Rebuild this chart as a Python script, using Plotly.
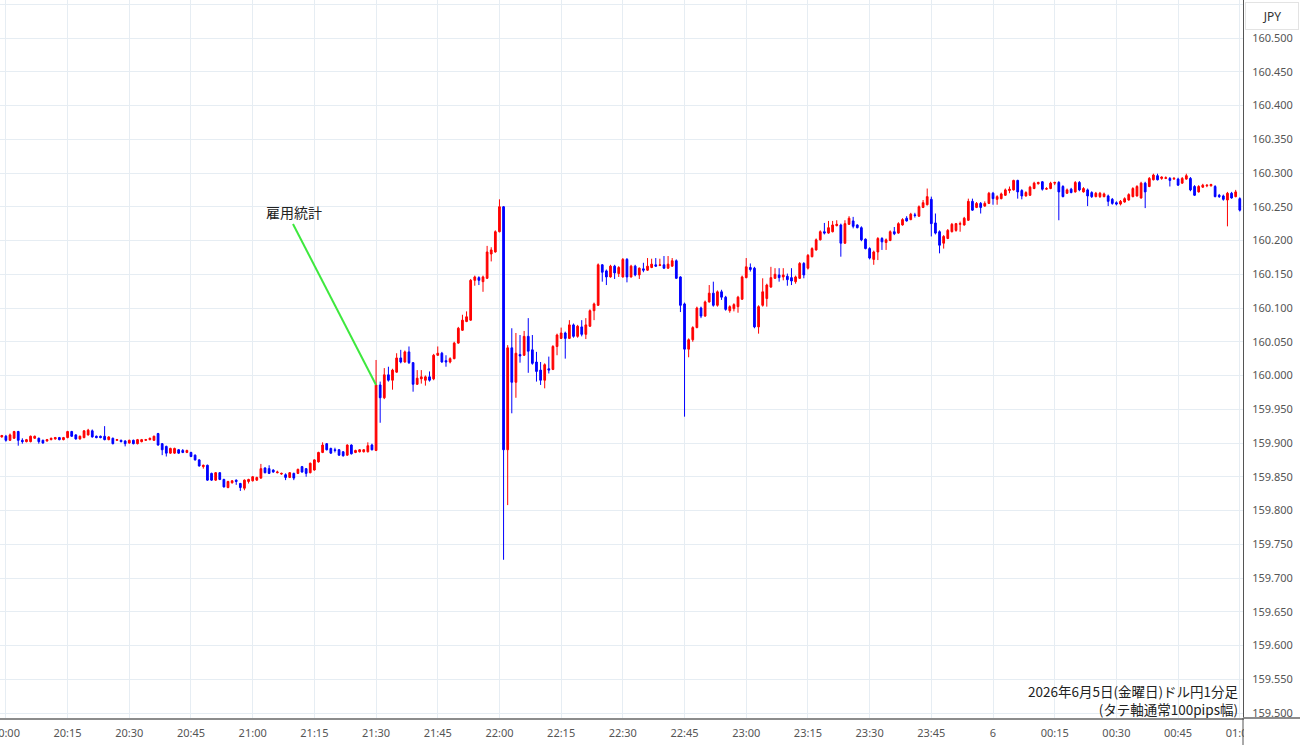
import pandas as pd
import plotly.graph_objects as go

# 1-minute USD/JPY candles, 19:59 .. 01:00
start_time = "2026-06-05 19:59"
n_bars = 302

open_ = [
    159.909, 159.910, 159.904, 159.907, 159.917, 159.904, 159.902, 159.902, 159.907, 159.907,
    159.904, 159.903, 159.905, 159.906, 159.908, 159.905, 159.908, 159.917, 159.912, 159.906,
    159.908, 159.912, 159.918, 159.910, 159.910, 159.910, 159.905, 159.907, 159.904, 159.904,
    159.903, 159.900, 159.904, 159.899, 159.902, 159.904, 159.905, 159.904, 159.914, 159.899,
    159.895, 159.885, 159.885, 159.890, 159.889, 159.886, 159.886, 159.882, 159.875, 159.865,
    159.867, 159.855, 159.845, 159.856, 159.846, 159.834, 159.841, 159.845, 159.840, 159.833,
    159.843, 159.844, 159.845, 159.848, 159.863, 159.862, 159.860, 159.856, 159.854, 159.853,
    159.849, 159.855, 159.855, 159.865, 159.862, 159.856, 159.860, 159.872, 159.886, 159.899,
    159.892, 159.890, 159.890, 159.887, 159.882, 159.897, 159.886, 159.887, 159.887, 159.887,
    159.897, 159.889, 159.986, 159.967, 160.001, 159.993, 160.005, 160.026, 160.020, 160.035,
    160.019, 159.987, 159.995, 159.993, 159.998, 159.995, 160.030, 160.033, 160.022, 160.020,
    160.025, 160.048, 160.067, 160.080, 160.082, 160.141, 160.145, 160.139, 160.144, 160.180,
    160.183, 160.213, 160.250, 159.890, 160.041, 159.990, 160.031, 160.030, 160.058, 160.038,
    160.020, 160.008, 159.993, 160.010, 160.009, 160.043, 160.055, 160.063, 160.055, 160.075,
    160.058, 160.072, 160.061, 160.073, 160.096, 160.104, 160.164, 160.155, 160.146, 160.162,
    160.151, 160.146, 160.172, 160.146, 160.162, 160.149, 160.158, 160.156, 160.160, 160.164,
    160.163, 160.164, 160.159, 160.162, 160.170, 160.146, 160.106, 160.039, 160.053, 160.071,
    160.100, 160.088, 160.109, 160.122, 160.104, 160.124, 160.116, 160.096, 160.099, 160.102,
    160.113, 160.145, 160.160, 160.159, 160.072, 160.104, 160.114, 160.131, 160.144, 160.149,
    160.146, 160.147, 160.145, 160.139, 160.144, 160.166, 160.159, 160.176, 160.186, 160.201,
    160.213, 160.211, 160.213, 160.222, 160.223, 160.196, 160.224, 160.229, 160.223, 160.219,
    160.202, 160.188, 160.172, 160.183, 160.203, 160.197, 160.200, 160.213, 160.211, 160.223,
    160.233, 160.231, 160.238, 160.236, 160.249, 160.253, 160.261, 160.226, 160.213, 160.196,
    160.203, 160.213, 160.215, 160.224, 160.223, 160.230, 160.258, 160.249, 160.255, 160.251,
    160.255, 160.270, 160.261, 160.262, 160.267, 160.274, 160.275, 160.289, 160.274, 160.266,
    160.267, 160.277, 160.284, 160.287, 160.276, 160.277, 160.285, 160.286, 160.280, 160.270,
    160.276, 160.272, 160.286, 160.272, 160.275, 160.271, 160.265, 160.265, 160.265, 160.266,
    160.261, 160.256, 160.254, 160.257, 160.260, 160.265, 160.266, 160.263, 160.285, 160.280,
    160.290, 160.296, 160.292, 160.292, 160.292, 160.291, 160.291, 160.285, 160.291, 160.292,
    160.280, 160.272, 160.279, 160.281, 160.281, 160.280, 160.267, 160.266, 160.260, 160.270,
    160.265, 160.262,
]

high = [
    159.912, 159.912, 159.914, 159.918, 159.918, 159.907, 159.906, 159.911, 159.911, 159.908,
    159.905, 159.906, 159.908, 159.909, 159.909, 159.909, 159.918, 159.918, 159.913, 159.911,
    159.919, 159.921, 159.920, 159.911, 159.911, 159.925, 159.910, 159.908, 159.906, 159.905,
    159.904, 159.905, 159.905, 159.906, 159.906, 159.906, 159.908, 159.911, 159.915, 159.900,
    159.896, 159.893, 159.893, 159.891, 159.891, 159.890, 159.887, 159.883, 159.876, 159.868,
    159.868, 159.856, 159.857, 159.857, 159.847, 159.844, 159.845, 159.846, 159.841, 159.846,
    159.847, 159.851, 159.850, 159.869, 159.864, 159.867, 159.861, 159.859, 159.856, 159.855,
    159.857, 159.856, 159.862, 159.866, 159.863, 159.871, 159.876, 159.887, 159.901, 159.900,
    159.893, 159.893, 159.891, 159.888, 159.898, 159.898, 159.890, 159.891, 159.891, 159.901,
    159.899, 160.023, 159.991, 160.011, 160.013, 160.010, 160.033, 160.038, 160.037, 160.043,
    160.020, 160.008, 160.008, 160.000, 160.006, 160.032, 160.043, 160.035, 160.030, 160.027,
    160.050, 160.072, 160.090, 160.095, 160.143, 160.148, 160.147, 160.148, 160.192, 160.190,
    160.215, 160.261, 160.251, 160.045, 160.070, 160.063, 160.060, 160.066, 160.085, 160.060,
    160.035, 160.020, 160.018, 160.028, 160.045, 160.062, 160.071, 160.065, 160.082, 160.077,
    160.075, 160.082, 160.085, 160.098, 160.108, 160.166, 160.165, 160.157, 160.164, 160.164,
    160.162, 160.174, 160.174, 160.164, 160.164, 160.160, 160.167, 160.174, 160.173, 160.174,
    160.173, 160.177, 160.177, 160.174, 160.172, 160.147, 160.108, 160.055, 160.073, 160.102,
    160.102, 160.111, 160.134, 160.139, 160.126, 160.127, 160.118, 160.104, 160.107, 160.118,
    160.148, 160.174, 160.166, 160.161, 160.104, 160.144, 160.136, 160.161, 160.159, 160.159,
    160.159, 160.151, 160.159, 160.148, 160.168, 160.168, 160.180, 160.190, 160.203, 160.215,
    160.226, 160.229, 160.229, 160.230, 160.225, 160.230, 160.236, 160.235, 160.224, 160.221,
    160.203, 160.190, 160.185, 160.205, 160.205, 160.203, 160.215, 160.220, 160.227, 160.233,
    160.236, 160.241, 160.241, 160.252, 160.260, 160.277, 160.265, 160.240, 160.215, 160.208,
    160.217, 160.226, 160.226, 160.228, 160.235, 160.262, 160.262, 160.257, 160.257, 160.258,
    160.272, 160.272, 160.267, 160.271, 160.277, 160.280, 160.290, 160.290, 160.276, 160.273,
    160.281, 160.287, 160.287, 160.288, 160.279, 160.287, 160.287, 160.288, 160.282, 160.277,
    160.278, 160.288, 160.288, 160.279, 160.277, 160.273, 160.272, 160.272, 160.271, 160.268,
    160.263, 160.258, 160.260, 160.264, 160.270, 160.279, 160.282, 160.287, 160.287, 160.294,
    160.299, 160.299, 160.295, 160.295, 160.294, 160.294, 160.293, 160.294, 160.299, 160.294,
    160.282, 160.282, 160.284, 160.283, 160.284, 160.282, 160.269, 160.268, 160.272, 160.272,
    160.275, 160.264,
]

low = [
    159.908, 159.902, 159.903, 159.906, 159.896, 159.899, 159.901, 159.901, 159.906, 159.899,
    159.899, 159.902, 159.904, 159.905, 159.904, 159.904, 159.907, 159.909, 159.905, 159.905,
    159.907, 159.911, 159.908, 159.907, 159.907, 159.904, 159.904, 159.898, 159.903, 159.901,
    159.895, 159.899, 159.898, 159.898, 159.901, 159.903, 159.904, 159.903, 159.896, 159.882,
    159.880, 159.884, 159.884, 159.884, 159.885, 159.885, 159.879, 159.874, 159.865, 159.862,
    159.844, 159.844, 159.844, 159.845, 159.834, 159.833, 159.840, 159.838, 159.829, 159.830,
    159.840, 159.843, 159.844, 159.847, 159.855, 159.854, 159.856, 159.855, 159.853, 159.845,
    159.848, 159.845, 159.854, 159.856, 159.850, 159.855, 159.859, 159.871, 159.885, 159.889,
    159.884, 159.886, 159.881, 159.880, 159.881, 159.883, 159.885, 159.886, 159.886, 159.886,
    159.889, 159.888, 159.930, 159.965, 159.991, 159.979, 160.004, 160.018, 160.019, 160.017,
    159.976, 159.986, 159.988, 159.985, 159.991, 159.993, 160.029, 160.019, 160.013, 160.018,
    160.024, 160.047, 160.066, 160.079, 160.081, 160.133, 160.134, 160.124, 160.143, 160.169,
    160.182, 160.212, 159.727, 159.808, 159.944, 159.967, 160.019, 160.029, 160.004, 160.016,
    159.991, 159.986, 159.981, 160.003, 160.008, 160.030, 160.054, 160.025, 160.054, 160.056,
    160.056, 160.058, 160.054, 160.072, 160.082, 160.103, 160.139, 160.134, 160.145, 160.143,
    160.146, 160.145, 160.138, 160.145, 160.147, 160.143, 160.153, 160.155, 160.159, 160.161,
    160.162, 160.158, 160.158, 160.161, 160.143, 160.094, 159.939, 160.027, 160.050, 160.070,
    160.085, 160.087, 160.108, 160.102, 160.102, 160.112, 160.096, 160.093, 160.095, 160.093,
    160.112, 160.144, 160.154, 160.070, 160.062, 160.102, 160.102, 160.130, 160.143, 160.139,
    160.141, 160.133, 160.134, 160.136, 160.143, 160.144, 160.157, 160.175, 160.185, 160.200,
    160.209, 160.210, 160.212, 160.221, 160.176, 160.195, 160.223, 160.218, 160.218, 160.199,
    160.187, 160.172, 160.164, 160.171, 160.186, 160.186, 160.199, 160.208, 160.210, 160.222,
    160.228, 160.230, 160.234, 160.235, 160.248, 160.252, 160.206, 160.209, 160.181, 160.188,
    160.202, 160.212, 160.213, 160.213, 160.222, 160.229, 160.244, 160.248, 160.240, 160.250,
    160.254, 160.253, 160.253, 160.261, 160.266, 160.270, 160.274, 160.262, 160.261, 160.265,
    160.266, 160.276, 160.283, 160.274, 160.275, 160.276, 160.282, 160.230, 160.264, 160.269,
    160.270, 160.271, 160.273, 160.271, 160.251, 160.263, 160.264, 160.263, 160.264, 160.251,
    160.253, 160.252, 160.252, 160.256, 160.259, 160.264, 160.265, 160.262, 160.248, 160.279,
    160.289, 160.289, 160.290, 160.291, 160.280, 160.290, 160.281, 160.284, 160.290, 160.273,
    160.266, 160.271, 160.278, 160.279, 160.280, 160.264, 160.263, 160.259, 160.221, 160.262,
    160.264, 160.243,
]

close = [
    159.911, 159.904, 159.912, 159.917, 159.904, 159.902, 159.905, 159.910, 159.910, 159.902,
    159.900, 159.905, 159.907, 159.908, 159.905, 159.908, 159.917, 159.910, 159.906, 159.910,
    159.918, 159.919, 159.909, 159.908, 159.908, 159.905, 159.909, 159.899, 159.905, 159.902,
    159.899, 159.904, 159.899, 159.905, 159.905, 159.905, 159.907, 159.910, 159.897, 159.890,
    159.885, 159.892, 159.892, 159.885, 159.886, 159.889, 159.880, 159.875, 159.866, 159.867,
    159.845, 159.845, 159.856, 159.846, 159.835, 159.843, 159.844, 159.843, 159.834, 159.845,
    159.846, 159.850, 159.849, 159.862, 159.856, 159.855, 159.857, 159.857, 159.855, 159.849,
    159.856, 159.848, 159.861, 159.857, 159.855, 159.870, 159.875, 159.886, 159.897, 159.890,
    159.885, 159.889, 159.882, 159.881, 159.897, 159.884, 159.889, 159.890, 159.890, 159.896,
    159.890, 159.986, 159.967, 160.001, 159.993, 160.008, 160.026, 160.020, 160.035, 160.019,
    159.987, 159.996, 159.998, 159.998, 159.993, 160.030, 160.033, 160.020, 160.020, 160.025,
    160.048, 160.070, 160.082, 160.087, 160.141, 160.146, 160.141, 160.146, 160.183, 160.186,
    160.213, 160.250, 159.890, 160.041, 159.990, 160.033, 160.029, 160.058, 160.036, 160.018,
    160.006, 159.993, 160.016, 160.008, 160.043, 160.060, 160.063, 160.055, 160.075, 160.058,
    160.073, 160.061, 160.075, 160.096, 160.106, 160.164, 160.153, 160.146, 160.162, 160.152,
    160.160, 160.172, 160.146, 160.162, 160.149, 160.159, 160.156, 160.162, 160.165, 160.162,
    160.164, 160.159, 160.165, 160.170, 160.144, 160.104, 160.039, 160.053, 160.071, 160.100,
    160.088, 160.109, 160.122, 160.104, 160.124, 160.116, 160.098, 160.102, 160.105, 160.116,
    160.146, 160.161, 160.157, 160.072, 160.102, 160.124, 160.134, 160.145, 160.150, 160.145,
    160.149, 160.142, 160.140, 160.146, 160.166, 160.149, 160.178, 160.188, 160.201, 160.213,
    160.211, 160.219, 160.223, 160.224, 160.196, 160.225, 160.233, 160.221, 160.219, 160.201,
    160.188, 160.174, 160.183, 160.203, 160.198, 160.201, 160.213, 160.210, 160.225, 160.231,
    160.229, 160.239, 160.237, 160.250, 160.256, 160.265, 160.225, 160.211, 160.193, 160.206,
    160.215, 160.224, 160.225, 160.225, 160.233, 160.258, 160.245, 160.255, 160.249, 160.255,
    160.270, 160.262, 160.265, 160.269, 160.275, 160.276, 160.289, 160.272, 160.266, 160.271,
    160.279, 160.285, 160.286, 160.276, 160.277, 160.285, 160.286, 160.272, 160.265, 160.275,
    160.271, 160.286, 160.275, 160.277, 160.266, 160.265, 160.270, 160.270, 160.269, 160.258,
    160.255, 160.254, 160.258, 160.262, 160.268, 160.277, 160.280, 160.285, 160.272, 160.292,
    160.297, 160.290, 160.294, 160.293, 160.289, 160.292, 160.282, 160.292, 160.296, 160.275,
    160.267, 160.280, 160.282, 160.282, 160.283, 160.265, 160.265, 160.261, 160.270, 160.263,
    160.272, 160.245,
]

tick_times = ["20:00", "20:15", "20:30", "20:45", "21:00", "21:15", "21:30", "21:45",
              "22:00", "22:15", "22:30", "22:45", "23:00", "23:15", "23:30", "23:45",
              "6", "00:15", "00:30", "00:45", "01:00"]
event_label = "雇用統計"
event_time = "2026-06-05 21:30"
caption_lines = ["2026年6月5日(金曜日)ドル円1分足", "(タテ軸通常100pips幅)"]
currency = "JPY"

n = min(len(open_), len(high), len(low), len(close), n_bars)
times = pd.date_range(start_time, periods=n, freq="1min")
base = pd.Timestamp("2026-06-05 20:00")
tickvals = pd.date_range(base, periods=len(tick_times), freq="15min")

event_idx = list(times).index(pd.Timestamp(event_time))
event_close = close[event_idx]

fig = go.Figure(go.Candlestick(
    x=times, open=open_[:n], high=high[:n], low=low[:n], close=close[:n],
    increasing=dict(line=dict(color="#ff0000", width=1), fillcolor="#ff0000"),
    decreasing=dict(line=dict(color="#0000ff", width=1), fillcolor="#0000ff"),
    whiskerwidth=0, hoverinfo="skip", showlegend=False,
))

W, H = 1300, 745
L, R, T, B = 0, 57, 0, 27
pw, ph = W - L - R, H - T - B

def px_x(p):
    return (p - L) / pw

def px_y(p):
    return (H - B - p) / ph

grid = "#e6edf3"
tickfont = dict(family="Noto Sans, Open Sans, sans-serif", size=11, color="#555555")

fig.update_layout(
    template="none",
    width=W, height=H, autosize=False,
    margin=dict(l=L, r=R, t=T, b=B, pad=0),
    paper_bgcolor="white", plot_bgcolor="white",
    boxgap=0.4, boxgroupgap=0.3,
    xaxis=dict(
        type="date", automargin=False,
        range=[base - pd.Timedelta(minutes=1.434), base + pd.Timedelta(minutes=300.78)],
        rangeslider=dict(visible=False),
        tickmode="array", tickvals=tickvals, ticktext=tick_times,
        showgrid=True, gridcolor=grid, gridwidth=1,
        showline=True, linecolor="#8c8c8c", linewidth=2,
        ticks="", zeroline=False, tickfont=tickfont,
        ticklabeloverflow="allow", ticklabelstandoff=4, fixedrange=True,
    ),
    yaxis=dict(
        side="right", automargin=False,
        range=[159.4926, 160.5563],
        tick0=159.5, dtick=0.05, tickformat=".3f",
        showgrid=True, gridcolor=grid, gridwidth=1,
        showline=True, linecolor="#555555", linewidth=1,
        ticks="", zeroline=False, tickfont=tickfont,
        ticklabelstandoff=6, fixedrange=True,
    ),
    font=dict(family="Noto Sans CJK JP, Noto Sans, sans-serif", color="#222222"),
)

# green pointer line from the label to the 21:30 candle
fig.add_shape(type="line", xref="x", yref="y",
              x0=base + pd.Timedelta(minutes=69.8), y0=160.2244,
              x1=pd.Timestamp(event_time), y1=event_close,
              line=dict(color="#3ee83e", width=2), layer="above")

# cover overflow of the last tick label past the right axis, and extend axis lines
fig.add_shape(type="rect", xref="paper", yref="paper",
              x0=1.0008, x1=px_x(W) + 0.01, y0=px_y(H) - 0.01, y1=-0.003,
              fillcolor="white", line=dict(width=0), layer="above")
fig.add_shape(type="line", xref="paper", yref="paper",
              x0=1.0, x1=px_x(W), y0=px_y(718), y1=px_y(718),
              line=dict(color="#8c8c8c", width=2), layer="above")
fig.add_shape(type="line", xref="paper", yref="paper",
              x0=px_x(1243), x1=px_x(1243), y0=px_y(H), y1=0,
              line=dict(color="#555555", width=1), layer="above")

fig.add_annotation(x=base + pd.Timedelta(minutes=70.05), y=160.2422, xref="x", yref="y",
                   text=event_label, showarrow=False,
                   font=dict(family="Noto Sans CJK JP", size=14, color="#222222"))

fig.add_annotation(x=px_x(1241), y=px_y(700), xref="paper", yref="paper",
                   xanchor="right", yanchor="middle", align="right",
                   text="<br>".join(caption_lines), showarrow=False,
                   font=dict(family="Noto Sans CJK JP", size=13.5, color="#222222"))

fig.add_annotation(x=px_x(1272), y=px_y(16), xref="paper", yref="paper",
                   xanchor="center", yanchor="middle", text=currency, showarrow=False,
                   font=dict(family="Noto Sans, sans-serif", size=12, color="#333333"),
                   bgcolor="white", bordercolor="#e3e3e3", borderwidth=1, borderpad=3,
                   width=46, height=20)

fig.write_html("out.html")
